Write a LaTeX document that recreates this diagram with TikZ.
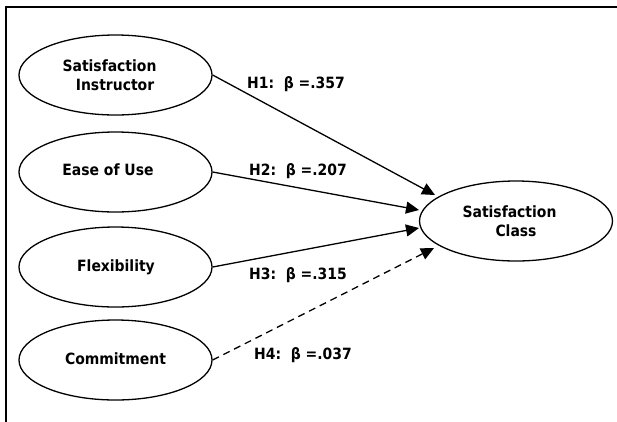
\documentclass[tikz,border=0pt]{standalone}
\usepackage{fontspec}
\setmainfont{DejaVu Sans Condensed}
\usetikzlibrary{shapes.geometric,arrows.meta}
\begin{document}
\begin{tikzpicture}[x=1pt,y=-1pt,
  ell/.style={draw,ellipse,line width=1.3pt,minimum width=193pt,minimum height=80pt,inner sep=0pt},
  txt/.style={anchor=base,inner sep=0pt,font=\fontsize{15.5}{17}\selectfont\bfseries},
  lab/.style={anchor=base west,inner sep=0pt,font=\fontsize{15.5}{17}\selectfont\bfseries},
  arr/.style={line width=1.3pt,-{Triangle[length=13pt,width=12pt]}},
  frame/.style={line width=1.6pt}]
\useasboundingbox (0,0) rectangle (617,421);
% frame
\coordinate (fbl) at (6,422);
\coordinate (ftl) at (6,7);
\coordinate (ftr) at (617,7);
\draw[frame] (fbl) -- (ftl) -- (ftr);
% ellipses
\node[ell] (si) at (115.5,75) {};
\node[ell] (eu) at (115.5,172) {};
\node[ell] (fx) at (115.5,267) {};
\node[ell] (cm) at (115.5,360) {};
\node[ell] (sc) at (516,221) {};
% texts
\node[txt] (siA) at (109.5,71.7) {Satisfaction};
\node[txt] (siB) at (115,90) {Instructor};
\node[txt] (euT) at (108,175.5) {Ease of Use};
\node[txt] (fxT) at (116,271.5) {Flexibility};
\node[txt] (cmT) at (115.5,364) {Commitment};
\node[txt] (scA) at (509.5,217) {Satisfaction};
\node[txt] (scB) at (516,236) {Class};
% arrow tips
\coordinate (t1) at (435,195);
\coordinate (t2) at (419,210);
\coordinate (t3) at (419,228);
\coordinate (t4) at (434,248);
\draw[arr] (si.east) -- (t1);
\draw[arr] (eu.east) -- (t2);
\draw[arr] (fx.east) -- (t3);
\draw[arr,dash pattern=on 7pt off 5pt] (cm.east) -- (t4);
% labels
\node[lab] (h1) at (247,88) {H1:\ \ β =.357};
\node[lab] (h2) at (249,175.5) {H2:\ \ β =.207};
\node[lab] (h3) at (249,279) {H3:\ \ β =.315};
\node[lab] (h4) at (254,359) {H4:\ \ β =.037};
\end{tikzpicture}
\end{document}
